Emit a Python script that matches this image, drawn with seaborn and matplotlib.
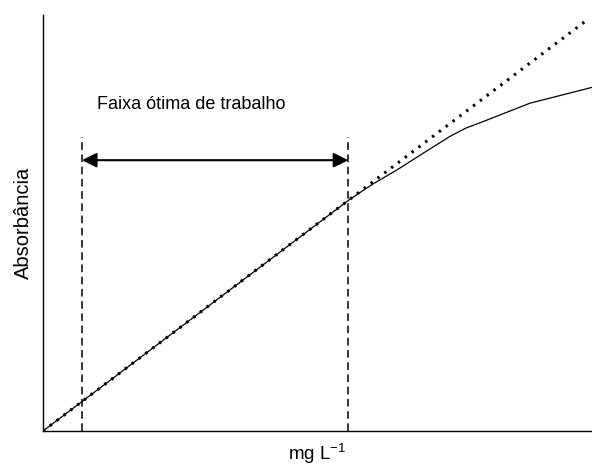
import matplotlib.pyplot as plt
import pandas as pd
import seaborn as sns

# curva real (desvio da linearidade) e reta ideal
conc = [0.0, 5.59, 6.0, 6.44, 7.0, 7.41, 7.7, 8.02, 8.87, 10.0]
absorb = [0.0, 0.557, 0.593, 0.627, 0.674, 0.708, 0.728, 0.744, 0.788, 0.826]
conc_ideal = [0.0, 9.93]
absorb_ideal = [0.0, 0.99]

# limites da faixa ótima
faixa = [0.71, 5.56]
topo_faixa = 0.707
seta_y = 0.651

sns.set_style("white")
plt.rcParams['font.family'] = ['Liberation Sans', 'DejaVu Sans']
plt.rcParams['mathtext.default'] = 'regular'

fig = plt.figure(figsize=(5.92, 4.70), dpi=100)
ax = fig.add_axes([43/592, 39/470, 549/592, 416/470])

real = pd.DataFrame({'conc': conc, 'abs': absorb})
ideal = pd.DataFrame({'conc': conc_ideal, 'abs': absorb_ideal})
sns.lineplot(data=real, x='conc', y='abs', color='black', lw=0.9, ax=ax)
sns.lineplot(data=ideal, x='conc', y='abs', color='black', lw=2.2,
             linestyle=(0, (0.8, 2.0)), ax=ax)

for xv in faixa:
    ax.plot([xv, xv], [0, topo_faixa], color='black', lw=1.1, dashes=(5, 3))

ax.annotate('', xy=(faixa[0], seta_y), xytext=(faixa[1], seta_y),
            arrowprops=dict(arrowstyle='<|-|>', color='black', lw=1.5,
                            mutation_scale=22, shrinkA=0, shrinkB=0))
ax.text(0.98, 0.786, 'Faixa ótima de trabalho', fontsize=13, va='center',
        color='black')

ax.set_xlim(0, 10)
ax.set_ylim(0, 1.0)
ax.set_xticks([])
ax.set_yticks([])
ax.set_xlabel('mg L$^{-1}$', fontsize=13.5, labelpad=8, color='black')
ax.set_ylabel('Absorbância', fontsize=14.5, labelpad=7, color='black')
sns.despine(ax=ax)
for s in ['left', 'bottom']:
    ax.spines[s].set_color('black')
    ax.spines[s].set_linewidth(1.0)

fig.savefig('out.png', dpi=100)
